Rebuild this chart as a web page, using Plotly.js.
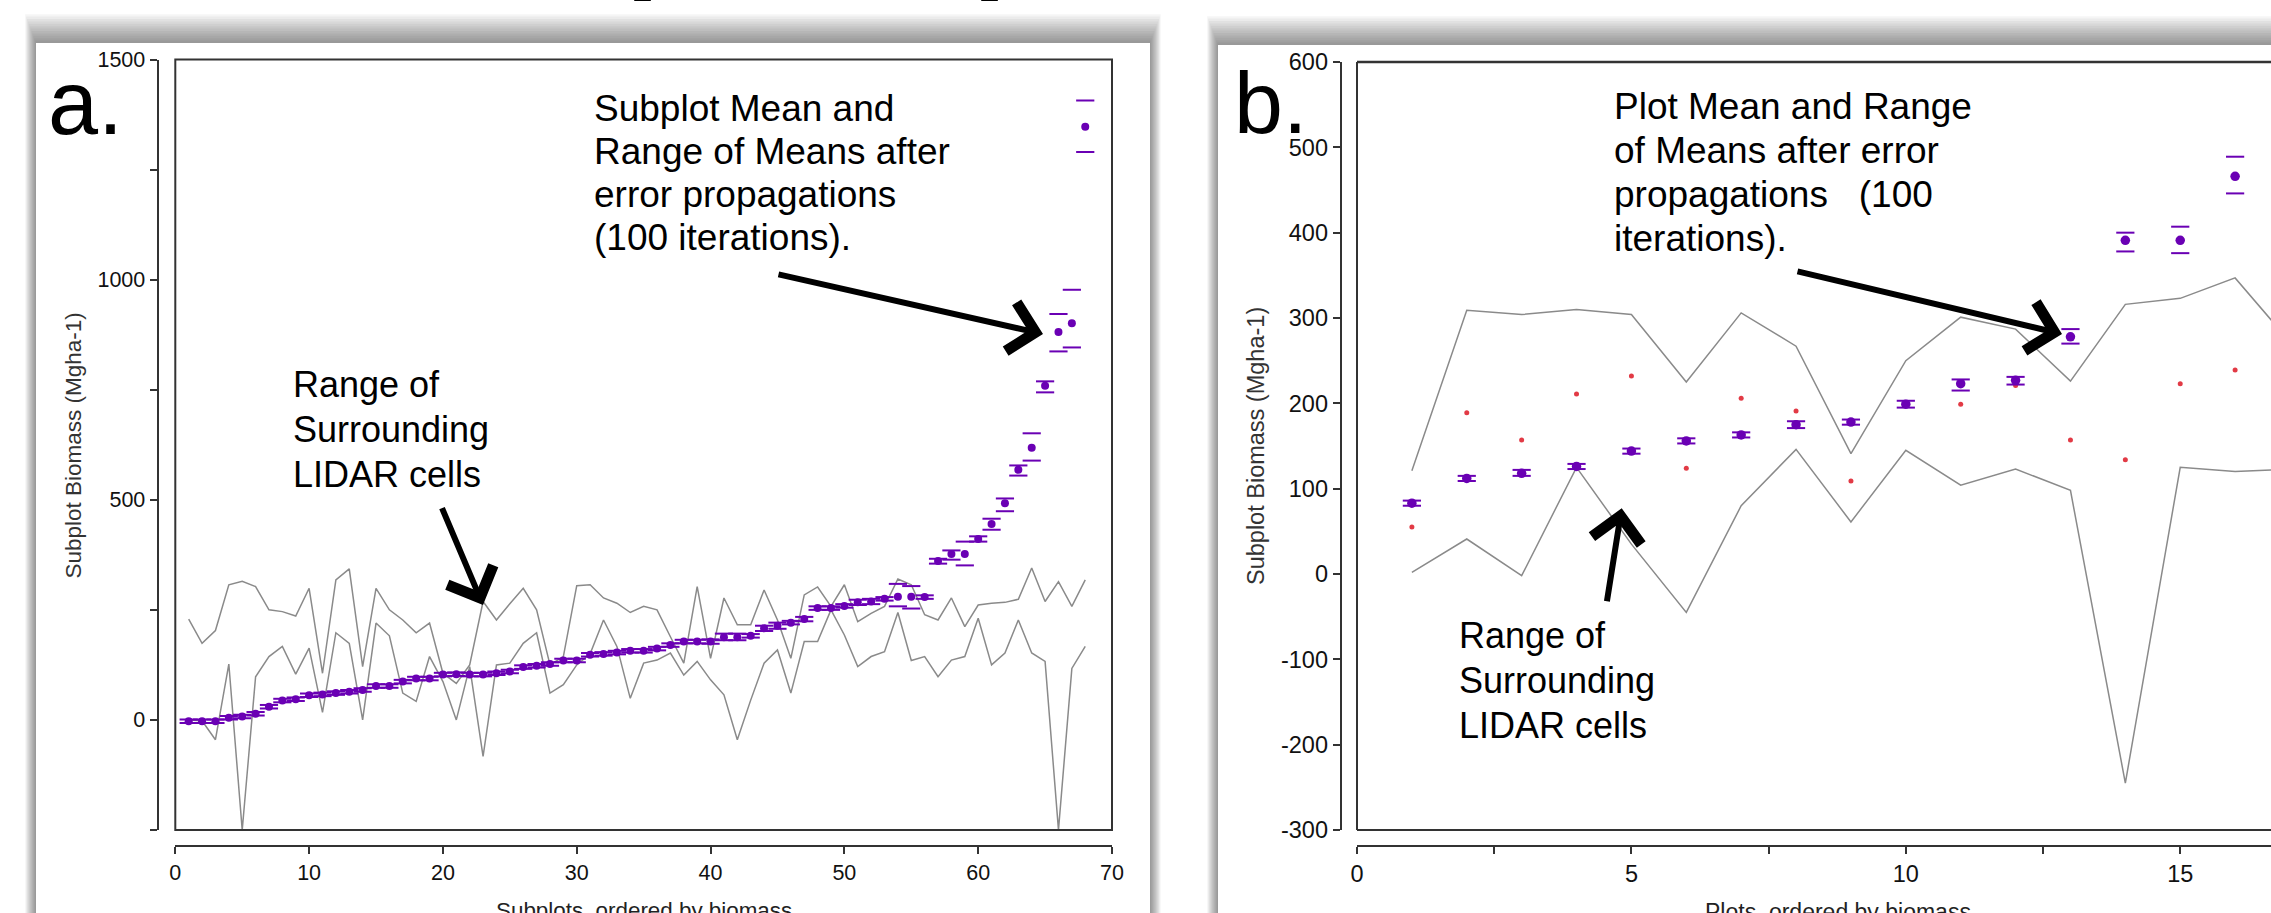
<!DOCTYPE html>
<html><head><meta charset="utf-8">
<script src="https://cdn.plot.ly/plotly-3.0.1.min.js"></script>
<style>html,body{margin:0;padding:0;background:#fff;overflow:hidden}#chart{width:2271px;height:913px}</style>
</head><body><div id="chart"></div>
<script>
// ---------- Panel a: subplots ----------
const a_mean = [-3,-3,-3,5,8,14,30,44,47,56,
  58,61,64,68,77,77,87,94,94,103,
  104,103,103,106,110,120,123,127,135,135,
  148,150,153,157,157,162,170,178,178,178,
  188,188,191,208,214,221,229,254,254,259,
  267,269,275,280,280,279,361,377,377,411,
  445,492,568,618,759,881,901,1347];
const a_hi = [1,1,1,9,12,18,34,48,51,60,
  62,65,68,72,81,81,91,98,98,107,
  108,107,107,110,114,124,127,131,139,139,
  152,154,157,161,161,166,174,182,182,183,
  196,196,195,214,221,225,234,258,258,263,
  273,275,279,309,304,283,366,385,405,417,
  457,503,578,651,769,922,977,1407];
const a_lo = [-7,-7,-7,1,4,10,26,40,43,52,
  54,57,60,64,73,73,83,90,90,99,
  100,99,99,102,106,116,119,123,131,131,
  144,146,149,153,153,158,166,174,174,173,
  181,181,187,202,207,217,224,250,250,255,
  261,263,271,258,253,275,355,364,351,405,
  432,474,555,589,744,837,846,1290];
const a_upper = [229,174,203,307,315,303,250,246,236,299,
  106,318,343,121,299,250,227,198,220,106,
  83,125,269,227,264,299,250,125,144,305,
  307,277,265,244,258,250,189,129,303,140,
  277,216,216,295,227,140,284,302,258,307,
  223,242,258,320,307,239,227,277,212,261,
  265,267,274,345,269,314,258,318];
const a_lower = [0,-2,-45,127,-250,98,144,167,104,163,
  17,198,174,0,220,191,61,42,144,87,
  0,121,-83,125,129,174,198,61,80,125,
  150,227,167,49,129,136,152,102,133,91,
  57,-45,45,129,159,61,178,178,250,193,
  121,144,155,244,135,144,98,136,144,231,
  125,152,227,152,133,-250,117,167];
const a_x = a_mean.map((_, i) => i + 1);
const a_xticks = [0,10,20,30,40,50,60,70];
const a_yticks = [-250,0,250,500,750,1000,1250,1500];
const a_ylabels = ['','0','','500','','1000','','1500'];

// ---------- Panel b: plots ----------
const b_x = [1,2,3,4,5,6,7,8,9,10,11,12,13,14,15,16];
const b_mean = [83,112,118,126,144,156,163,175,178,199,223,227,278,391,391,466];
const b_hi = [86,115,122,129,147,159,166,179,181,203,228,231,287,400,407,489];
const b_lo = [80,109,115,123,141,153,160,171,175,195,215,222,270,378,376,446];
const b_red = [55,189,157,211,232,124,206,191,109,null,199,221,157,134,223,239];
const b_line_x = [1,2,3,4,5,6,7,8,9,10,11,12,13,14,15,16,17];
const b_upper = [121,309,304,310,304,225,306,267,141,250,301,287,226,316,323,347,272];
const b_lower = [2,41,-2,125,35,-45,80,146,61,145,104,123,98,-245,125,120,123];
const b_xticks = [0,2.5,5,7.5,10,12.5,15];
const b_xlabels = ['0','','5','','10','','15'];
const b_yticks = [-300,-200,-100,0,100,200,300,400,500,600];

// ---------- styling ----------
const W = 2271, H = 913;
const px = x => x / W;
const py = y => 1 - y / H;
const FONT = 'Liberation Sans, Arial, sans-serif';
const PURPLE = '#6a00b4';
const GRAY = '#8a8a8a';
const RED = '#e23a45';
const AX = '#333';

const traces = [
  {x: a_x, y: a_upper, mode: 'lines', line: {color: GRAY, width: 1.5}, xaxis: 'x', yaxis: 'y', hoverinfo: 'skip'},
  {x: a_x, y: a_lower, mode: 'lines', line: {color: GRAY, width: 1.5}, xaxis: 'x', yaxis: 'y', hoverinfo: 'skip'},
  {x: a_x, y: a_hi, mode: 'markers', marker: {symbol: 'line-ew', size: 13, color: PURPLE, line: {color: PURPLE, width: 2}}, xaxis: 'x', yaxis: 'y'},
  {x: a_x, y: a_lo, mode: 'markers', marker: {symbol: 'line-ew', size: 13, color: PURPLE, line: {color: PURPLE, width: 2}}, xaxis: 'x', yaxis: 'y'},
  {x: a_x, y: a_mean, mode: 'markers', marker: {symbol: 'circle', size: 8, color: PURPLE}, xaxis: 'x', yaxis: 'y'},

  {x: b_line_x, y: b_upper, mode: 'lines', line: {color: GRAY, width: 1.5}, xaxis: 'x2', yaxis: 'y2', hoverinfo: 'skip'},
  {x: b_line_x, y: b_lower, mode: 'lines', line: {color: GRAY, width: 1.5}, xaxis: 'x2', yaxis: 'y2', hoverinfo: 'skip'},
  {x: b_x, y: b_red, mode: 'markers', marker: {symbol: 'circle', size: 5, color: RED}, xaxis: 'x2', yaxis: 'y2'},
  {x: b_x, y: b_hi, mode: 'markers', marker: {symbol: 'line-ew', size: 13, color: PURPLE, line: {color: PURPLE, width: 2}}, xaxis: 'x2', yaxis: 'y2'},
  {x: b_x, y: b_lo, mode: 'markers', marker: {symbol: 'line-ew', size: 13, color: PURPLE, line: {color: PURPLE, width: 2}}, xaxis: 'x2', yaxis: 'y2'},
  {x: b_x, y: b_mean, mode: 'markers', marker: {symbol: 'circle', size: 9.5, color: PURPLE}, xaxis: 'x2', yaxis: 'y2'}
];

const axisCommon = {
  showline: true, linecolor: AX, linewidth: 2, ticks: 'outside', ticklen: 7, tickwidth: 2, tickcolor: AX,
  showgrid: false, zeroline: false, fixedrange: true, anchor: 'free', tickmode: 'array'
};

// shadows + white slide panels
const shapes = [];
function panelBox(x0, x1, y0) {
  for (let k = 12; k >= 1; k--) {
    shapes.push({type: 'rect', xref: 'paper', yref: 'paper', layer: 'below',
      x0: px(x0 - k * 0.9), x1: px(x1 + k * 0.9), y0: py(H + 20), y1: py(y0 - k * 2.4),
      fillcolor: 'rgba(0,0,0,0.038)', line: {width: 0}});
  }
  shapes.push({type: 'rect', xref: 'paper', yref: 'paper', layer: 'below',
    x0: px(x0), x1: px(x1), y0: py(H + 20), y1: py(y0), fillcolor: '#ffffff', line: {width: 0}});
}
panelBox(36, 1150, 43);
panelBox(1218, W + 40, 45);
// plot frames
shapes.push({type: 'rect', xref: 'x domain', yref: 'y domain', x0: 0, x1: 1, y0: 0, y1: 1, line: {color: AX, width: 2}});
shapes.push({type: 'line', xref: 'x2 domain', yref: 'y2 domain', x0: 0, x1: 1, y0: 1, y1: 1, line: {color: AX, width: 2.5}});
shapes.push({type: 'line', xref: 'x2 domain', yref: 'y2 domain', x0: 0, x1: 0, y0: 0, y1: 1, line: {color: AX, width: 2}});
shapes.push({type: 'line', xref: 'x2 domain', yref: 'y2 domain', x0: 0, x1: 1, y0: 0, y1: 0, line: {color: AX, width: 2}});

const annotations = [];
function txt(text, x, yc, size, opts) {
  annotations.push(Object.assign({text: text, xref: 'paper', yref: 'paper', x: px(x), y: py(yc),
    xanchor: 'left', yanchor: 'middle', showarrow: false, font: {family: FONT, size: size, color: '#000'}}, opts || {}));
}
function arrow(tx, ty, ax, ay) {
  annotations.push({text: '', xref: 'paper', yref: 'paper', x: px(tx), y: py(ty), ax: ax, ay: ay,
    showarrow: true, arrowhead: 4, arrowsize: 1.6, arrowwidth: 6, arrowcolor: '#000', standoff: 0});
}
// panel letters
txt('a.', 46, 103, 90);
txt('b.', 1232, 102, 88);
// panel a texts
['Subplot Mean and', 'Range of Means after', 'error propagations', '(100 iterations).'].forEach((t, i) =>
  txt(t, 592, 108.7 + i * 42.8, 37));
['Range of', 'Surrounding', 'LIDAR cells'].forEach((t, i) => txt(t, 291, 384.7 + i * 45, 36));
// panel b texts
['Plot Mean and Range', 'of Means after error', 'propagations\u00a0\u00a0\u00a0(100', 'iterations).'].forEach((t, i) =>
  txt(t, 1612, 106.3 + i * 44.1, 37));
['Range of', 'Surrounding', 'LIDAR cells'].forEach((t, i) => txt(t, 1457, 635.7 + i * 45, 36));
// arrows
arrow(483, 605, -41.6, -98.3);
arrow(1043, 334, -266, -60);
arrow(1621.7, 508.3, -15, 94.4);
arrow(2062, 334, -266, -63);
// axis titles
txt('Subplot Biomass (Mgha-1)', 72.5, 446, 22.5, {xanchor: 'center', textangle: -90, font: {family: FONT, size: 22.5, color: '#333'}});
txt('Subplot Biomass (Mgha-1)', 1256, 446, 23.5, {xanchor: 'center', textangle: -90, font: {family: FONT, size: 23.5, color: '#333'}});
txt('Subplots\u00a0 ordered by biomass', 644, 910, 22.4, {xanchor: 'center', font: {family: FONT, size: 22.4, color: '#222'}});
txt('Plots\u00a0 ordered by biomass', 1838, 911.5, 23, {xanchor: 'center', font: {family: FONT, size: 23, color: '#222'}});
// cut-off slide title descenders at the very top
txt('p', 652, 0, 76, {xanchor: 'center', yanchor: 'bottom', y: py(3), font: {family: 'Liberation Serif, serif', size: 76, color: '#000'}});
txt('p', 999, 0, 76, {xanchor: 'center', yanchor: 'bottom', y: py(3), font: {family: 'Liberation Serif, serif', size: 76, color: '#000'}});

const layout = {
  width: W, height: H, margin: {l: 0, r: 0, t: 0, b: 0},
  paper_bgcolor: '#ffffff', plot_bgcolor: 'rgba(0,0,0,0)', showlegend: false,
  font: {family: FONT, color: '#222'},
  xaxis: Object.assign({}, axisCommon, {domain: [px(175.3), px(1112)], range: [0, 70], position: py(845.7),
    tickvals: a_xticks, ticktext: a_xticks.map(String), tickfont: {size: 21.5, color: '#111'}}),
  yaxis: Object.assign({}, axisCommon, {domain: [py(830), py(59.5)], range: [-250, 1500], position: px(157.6), side: 'left',
    tickvals: a_yticks, ticktext: a_ylabels, tickfont: {size: 21.5, color: '#111'}}),
  xaxis2: Object.assign({}, axisCommon, {domain: [px(1357), 1], range: [0, 16.654], position: py(845.7),
    tickvals: b_xticks, ticktext: b_xlabels, tickfont: {size: 23.5, color: '#111'}}),
  yaxis2: Object.assign({}, axisCommon, {domain: [py(830), py(62)], range: [-300, 600], position: px(1340.7), side: 'left',
    tickvals: b_yticks, ticktext: b_yticks.map(String), tickfont: {size: 23.5, color: '#111'}}),
  shapes: shapes,
  annotations: annotations
};

Plotly.newPlot('chart', traces, layout, {staticPlot: true, displayModeBar: false});
</script>
</body></html>
